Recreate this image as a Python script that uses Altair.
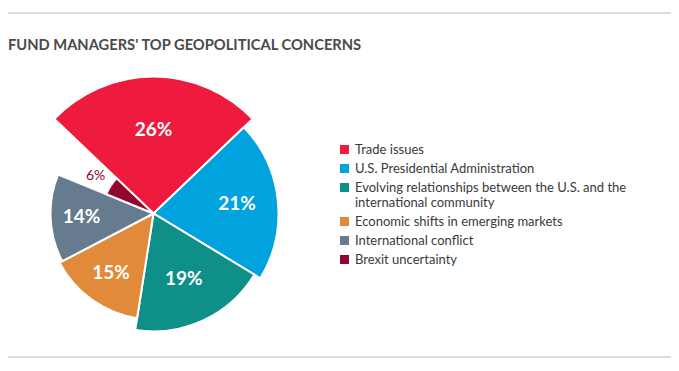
import altair as alt
import pandas as pd

categories = [
    "Trade issues",
    "U.S. Presidential Administration",
    "Evolving relationships between the U.S. and the international community",
    "Economic shifts in emerging markets",
    "International conflict",
    "Brexit uncertainty",
]
values = [26, 21, 19, 15, 14, 6]
labels = ["26%", "21%", "19%", "15%", "14%", "6%"]
colors = ["#EE1B3E", "#00A3DD", "#0E8F88", "#E08A3A", "#677B8F", "#93062F"]

df = pd.DataFrame({
    "category": categories,
    "value": values,
    "label": labels,
    "idx": list(range(len(categories))),
})

PI = 3.141592653589793
total = float(sum(values))
start = -values[0] / total * PI
theta_scale = alt.Scale(domain=[0, total], range=[start, start + 2 * PI])

FONT = "Lato"

base = alt.Chart(df)

arcs = base.mark_arc(stroke="white", strokeWidth=2).encode(
    theta=alt.Theta("value:Q", stack=True, scale=theta_scale),
    radius=alt.Radius(
        "value:Q",
        scale=alt.Scale(domain=[6, 14, 15, 19, 21, 26], range=[51, 103, 106, 118, 125, 137]),
    ),
    radius2=alt.value(0),
    color=alt.Color(
        "category:N",
        scale=alt.Scale(domain=categories, range=colors),
        legend=alt.Legend(
            title=None,
            orient="none",
            legendX=330,
            legendY=65,
            symbolType="square",
            symbolSize=81,
            symbolStrokeWidth=0,
            labelFont=FONT,
            labelFontSize=13,
            labelColor="#3a3a3a",
            labelOffset=4,
            labelLimit=400,
            rowPadding=5,
            padding=0,
            labelExpr="length(datum.label) > 50 ? [slice(datum.label, 0, 47), slice(datum.label, 48)] : datum.label",
        ),
    ),
    order=alt.Order("idx:Q"),
)

mid = base.transform_window(
    cum="sum(value)", sort=[alt.SortField("idx")], frame=[None, 0]
).transform_calculate(mid="datum.cum - datum.value / 2")

big_text = mid.transform_filter("datum.value >= 10").mark_text(
    font=FONT, fontSize=19, fontWeight="bold", color="white"
).encode(
    theta=alt.Theta("mid:Q", scale=theta_scale),
    radius=alt.Radius(
        "value:Q",
        scale=alt.Scale(domain=[14, 15, 19, 21, 26], range=[72, 73, 72, 84, 84]),
    ),
    text="label:N",
)

small_text = mid.transform_filter("datum.value < 10").mark_text(
    font=FONT, fontSize=14, color="#93062F", radius=69
).encode(
    theta=alt.Theta("mid:Q", scale=theta_scale),
    text="label:N",
)

one = alt.Data(values=[{}])
top_line = alt.Chart(one).mark_rule(color="#cfcfcf", strokeWidth=1.5).encode(
    x=alt.value(0), x2=alt.value(663), y=alt.value(-65)
)
bottom_line = alt.Chart(one).mark_rule(color="#cfcfcf", strokeWidth=1.5).encode(
    x=alt.value(0), x2=alt.value(663), y=alt.value(279)
)

chart = alt.layer(arcs, big_text, small_text, top_line, bottom_line).resolve_scale(
    radius="independent"
).properties(
    width=291,
    height=271,
    autosize=alt.AutoSizeParams(type="none"),
    padding={"left": 0, "top": 70, "right": 372, "bottom": 14},
    title=alt.TitleParams(
        text="FUND MANAGERS' TOP GEOPOLITICAL CONCERNS",
        anchor="start",
        frame="group",
        font=FONT,
        fontSize=14.7,
        fontWeight="bold",
        color="#4a4a4a",
        baseline="alphabetic",
        offset=0,
        dy=52.5,
    ),
).configure_view(stroke=None)

chart.save("out.html", embed_options={"renderer": "svg", "actions": False})
